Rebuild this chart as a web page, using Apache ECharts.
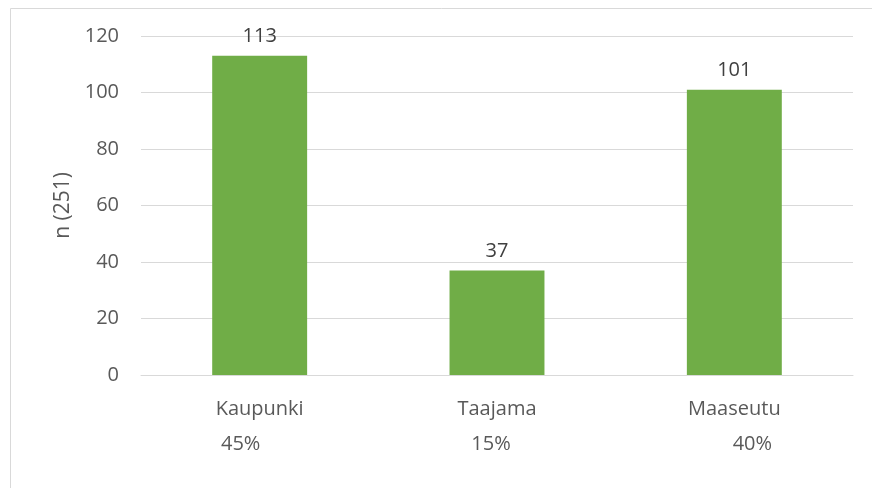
<!DOCTYPE html>
<html>
<head>
<meta charset="utf-8">
<script src="https://cdn.jsdelivr.net/npm/echarts@6/dist/echarts.min.js"></script>
<style>
  html, body { margin: 0; padding: 0; background: #fff; }
  #chart { width: 872px; height: 488px; }
</style>
</head>
<body>
<div id="chart"></div>
<script>
var categories = ['Kaupunki', 'Taajama', 'Maaseutu'];
var counts = [113, 37, 101];
var percents = ['45%', '15%', '40%'];
var yTicks = [0, 20, 40, 60, 80, 100, 120];

var font = 'Open Sans';
var textColor = '#595959';
var lineColor = '#d9d9d9';

var myChart = echarts.init(document.getElementById('chart'));

var option = {
    animation: false,
    grid: { left: 141, right: 19, top: 36, bottom: 113 },
    xAxis: {
        type: 'category',
        data: categories,
        axisLine: { lineStyle: { color: lineColor, width: 1 } },
        axisTick: { show: false },
        axisLabel: { color: textColor, fontSize: 20, fontFamily: font, margin: 24 }
    },
    yAxis: {
        type: 'value',
        min: yTicks[0],
        max: yTicks[yTicks.length - 1],
        interval: 20,
        name: 'n (251)',
        nameLocation: 'middle',
        nameGap: 66,
        nameRotate: 90,
        nameTextStyle: { color: textColor, fontSize: 21, fontFamily: font },
        axisLine: { show: false },
        axisTick: { show: false },
        splitLine: { lineStyle: { color: lineColor, width: 1 } },
        axisLabel: { color: textColor, fontSize: 20, fontFamily: font, margin: 22 }
    },
    series: [{
        type: 'bar',
        data: counts,
        barWidth: '40%',
        itemStyle: { color: '#70ad47' },
        label: {
            show: true,
            position: 'top',
            distance: 9,
            color: '#404040',
            fontSize: 20,
            fontFamily: font
        }
    }]
};
myChart.setOption(option);

// percentage row under the category labels (offset a little, as in the original)
var pctOffsets = [-19, -6, 18];
var graphics = [{
    type: 'rect',
    left: 8, top: 6,
    shape: { width: 900, height: 600 },
    style: { fill: 'none', stroke: lineColor, lineWidth: 1 },
    silent: true
}];
for (var i = 0; i < categories.length; i++) {
    var px = myChart.convertToPixel({ xAxisIndex: 0 }, categories[i]);
    graphics.push({
        type: 'text',
        x: px + pctOffsets[i],
        y: 444,
        style: {
            text: percents[i],
            fill: textColor,
            fontSize: 20,
            fontFamily: font,
            align: 'center',
            verticalAlign: 'middle'
        }
    });
}
myChart.setOption({ graphic: graphics });
</script>
</body>
</html>
